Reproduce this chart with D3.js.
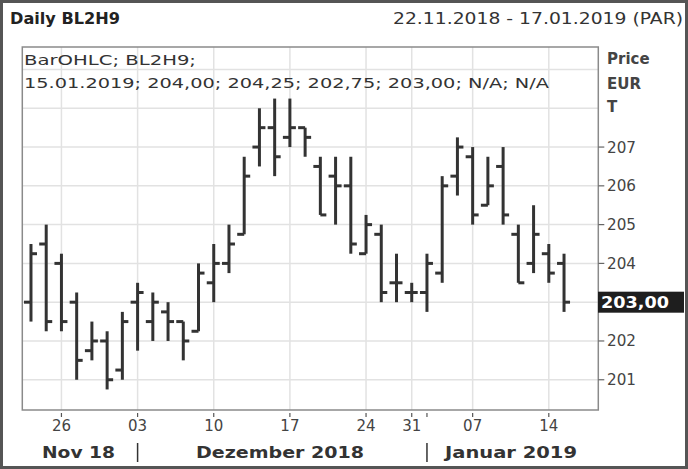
<!DOCTYPE html>
<html><head><meta charset="utf-8">
<script src="https://cdn.jsdelivr.net/npm/d3@7"></script>
<style>html,body{margin:0;padding:0;background:#fff;}svg{display:block;}</style>
</head><body>
<svg id="c" width="688" height="469"></svg>
<script>
// ---- data ----
const dates = ["22.11.2018","23.11.2018","26.11.2018","27.11.2018","28.11.2018","29.11.2018","30.11.2018",
 "03.12.2018","04.12.2018","05.12.2018","06.12.2018","07.12.2018",
 "10.12.2018","11.12.2018","12.12.2018","13.12.2018","14.12.2018",
 "17.12.2018","18.12.2018","19.12.2018","20.12.2018","21.12.2018",
 "24.12.2018","27.12.2018","28.12.2018","31.12.2018",
 "02.01.2019","03.01.2019","04.01.2019",
 "07.01.2019","08.01.2019","09.01.2019","10.01.2019","11.01.2019",
 "14.01.2019","15.01.2019"];
const openV  = [203.0,204.5,204.0,203.0,201.75,202.0,201.25,203.0,202.5,202.75,202.5,202.25,203.5,204.0,204.75,207.0,207.5,207.25,207.5,206.5,206.25,206.0,204.25,204.75,203.5,203.25,203.25,203.75,206.25,206.75,205.5,206.5,204.75,204.0,204.25,204.0];
const highV  = [204.5,205.0,204.25,203.25,202.5,202.25,202.75,203.5,203.25,203.0,202.5,204.0,204.5,205.0,206.75,208.0,208.25,208.25,207.5,206.75,206.75,206.75,205.25,205.0,204.25,203.5,204.25,206.25,207.25,207.0,206.75,207.0,205.0,205.5,204.5,204.25];
const lowV   = [202.5,202.25,202.25,201.0,201.5,200.75,201.0,201.75,202.0,202.0,201.5,202.25,203.0,203.75,204.75,206.5,206.25,207.0,206.75,205.25,205.0,204.25,204.25,203.0,203.0,203.0,202.75,203.5,205.75,205.0,205.5,205.0,203.5,203.75,203.5,202.75];
const closeV = [204.25,202.5,202.5,201.5,202.0,201.0,202.5,203.25,203.0,202.5,202.0,203.75,204.0,204.5,206.25,207.5,206.75,207.5,207.25,205.25,206.0,204.5,205.0,203.25,203.5,203.25,204.0,206.0,207.0,205.25,206.0,205.25,203.5,204.75,203.75,203.0];
const yTicks = [201,202,203,204,205,206,207];
const yGrid = [201,202,203,204,205,206,207,208,209];
const xTickIdx = [2,7,12,17,22,25,29,34];
const xTickLabels = ["26","03","10","17","24","31","07","14"];
const monthLabels = ["Nov 18","Dezember 2018","Januar 2019"];
const monthSepIdx = [7,26];
const lastValueLabel = "203,00";

// ---- layout ----
const svg = d3.select("#c");
const F = "'DejaVu Sans', Verdana, sans-serif";
const L = 22.3, R = 598.3, T = 47, B = 410;
const x = d3.scaleLinear().domain([-0.57, 37.25]).range([L, R]);
const y = d3.scaleLinear().domain([200.22, 209.58]).range([B, T]);
const ink = "#333";
const lv = closeV[closeV.length-1];

// outer frame
svg.append("rect").attr("x",1.5).attr("y",1.5).attr("width",685).attr("height",466)
  .attr("fill","#fff").attr("stroke","#555").attr("stroke-width",3);

// header
svg.append("text").attr("x",10).attr("y",24).attr("font-family",F).attr("font-weight","bold")
  .attr("font-size",15).attr("fill","#222").attr("textLength",110).attr("lengthAdjust","spacingAndGlyphs")
  .text("Daily BL2H9");
svg.append("text").attr("x",393).attr("y",24).attr("font-family",F)
  .attr("font-size",15).attr("fill","#333").attr("textLength",290).attr("lengthAdjust","spacingAndGlyphs")
  .text("22.11.2018 - 17.01.2019 (PAR)");

// grid
const g = svg.append("g");
g.selectAll("line.hg").data(yGrid).join("line")
  .attr("x1",L).attr("x2",R).attr("y1",d=>y(d)).attr("y2",d=>y(d))
  .attr("stroke","#e2e2e2").attr("stroke-width",1.5);
g.selectAll("line.vg").data(xTickIdx).join("line")
  .attr("x1",d=>x(d)).attr("x2",d=>x(d)).attr("y1",T).attr("y2",B)
  .attr("stroke","#e2e2e2").attr("stroke-width",1.5);

// plot border
svg.append("rect").attr("x",L).attr("y",T).attr("width",R-L).attr("height",B-T)
  .attr("fill","none").attr("stroke","#8a8a8a").attr("stroke-width",1.5);

// legend text
svg.append("text").attr("x",24).attr("y",65).attr("font-family",F).attr("font-size",14).attr("fill",ink)
  .attr("textLength",172).attr("lengthAdjust","spacingAndGlyphs").text("BarOHLC; BL2H9;");
svg.append("text").attr("x",24).attr("y",88).attr("font-family",F).attr("font-size",14).attr("fill",ink)
  .attr("textLength",525).attr("lengthAdjust","spacingAndGlyphs")
  .text("15.01.2019; 204,00; 204,25; 202,75; 203,00; N/A; N/A");

// bars
const idx = d3.range(dates.length);
const bars = svg.append("g").attr("stroke","#333").attr("stroke-width",3);
bars.selectAll("line.hl").data(idx).join("line")
  .attr("x1",i=>x(i)).attr("x2",i=>x(i)).attr("y1",i=>y(highV[i])).attr("y2",i=>y(lowV[i]));
bars.selectAll("line.op").data(idx).join("line")
  .attr("x1",i=>x(i)-7).attr("x2",i=>x(i)).attr("y1",i=>y(openV[i])).attr("y2",i=>y(openV[i]));
bars.selectAll("line.cl").data(idx).join("line")
  .attr("x1",i=>x(i)).attr("x2",i=>x(i)+6).attr("y1",i=>y(closeV[i])).attr("y2",i=>y(closeV[i]));

// y axis labels (the label under the last-value box is hidden by it)
const shownTicks = yTicks.filter(d => Math.abs(d - lv) > 0.3);
svg.append("g").selectAll("line").data(yTicks).join("line")
  .attr("x1",R).attr("x2",R+6).attr("y1",d=>y(d)).attr("y2",d=>y(d)).attr("stroke","#666").attr("stroke-width",1.2);
svg.append("g").selectAll("text").data(shownTicks).join("text")
  .attr("x",607).attr("y",d=>y(d)+5.5).attr("font-family",F).attr("font-size",15).attr("fill","#444")
  .attr("textLength",29).attr("lengthAdjust","spacingAndGlyphs").text(d=>d);
[["Price",64],["EUR",89],["T",112]].forEach(([t,yy])=>{
  svg.append("text").attr("x",607).attr("y",yy).attr("font-family",F).attr("font-weight","bold")
    .attr("font-size",15).attr("fill","#444").text(t);
});
// last value box
svg.append("rect").attr("x",598).attr("y",y(lv)-10.5).attr("width",86).attr("height",21).attr("fill","#1e1e1e");
svg.append("text").attr("x",601).attr("y",y(lv)+5.5).attr("font-family",F).attr("font-weight","bold")
  .attr("font-size",15).attr("fill","#fff").attr("textLength",68).attr("lengthAdjust","spacingAndGlyphs").text(lastValueLabel);

// x axis
svg.append("g").selectAll("line").data(xTickIdx.concat([26])).join("line")
  .attr("x1",d=>x(d)).attr("x2",d=>x(d)).attr("y1",B+3).attr("y2",B+7).attr("stroke","#555").attr("stroke-width",1.2);
svg.append("g").selectAll("text").data(xTickIdx).join("text")
  .attr("x",d=>x(d)).attr("y",431).attr("text-anchor","middle").attr("font-family",F).attr("font-size",15)
  .attr("fill","#444").text((d,i)=>xTickLabels[i]);
const monthPos = [[42,73],[196,168],[445,132]];
monthLabels.forEach((m,i)=>{
  svg.append("text").attr("x",monthPos[i][0]).attr("y",458).attr("font-family",F).attr("font-weight","bold")
    .attr("font-size",15).attr("fill","#333").attr("textLength",monthPos[i][1]).attr("lengthAdjust","spacingAndGlyphs").text(m);
});
svg.append("g").selectAll("line").data(monthSepIdx).join("line")
  .attr("x1",d=>x(d)).attr("x2",d=>x(d)).attr("y1",443).attr("y2",462).attr("stroke","#333").attr("stroke-width",1.5);
</script>
</body></html>
